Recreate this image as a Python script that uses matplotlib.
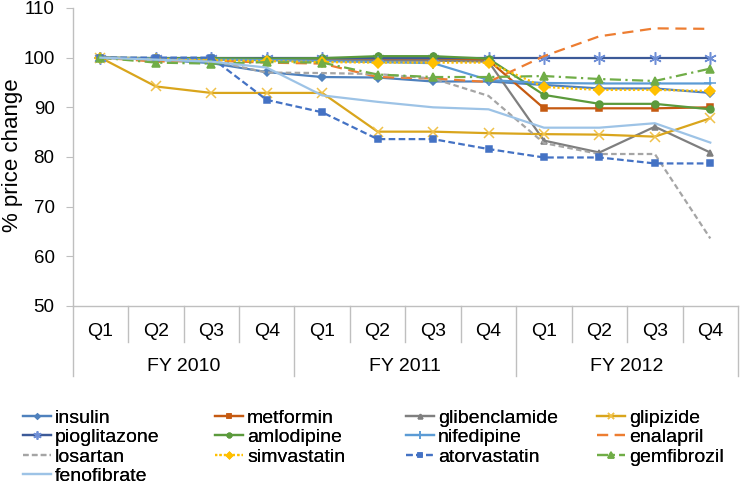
import matplotlib
matplotlib.use("Agg")
import matplotlib.pyplot as plt
from matplotlib.transforms import blended_transform_factory

plt.rcParams["font.family"] = ["Liberation Sans", "DejaVu Sans"]

quarters = ["Q1", "Q2", "Q3", "Q4", "Q1", "Q2", "Q3", "Q4", "Q1", "Q2", "Q3", "Q4"]
years = ["FY 2010", "FY 2011", "FY 2012"]

insulin = [100, 99.6, 98.9, 97.1, 96.1, 96.0, 95.2, 95.2, 94.5, 93.8, 93.8, 92.9]
metformin = [100, 99.8, 99.8, 99.6, 99.6, 99.5, 99.5, 99.5, 89.8, 89.8, 89.8, 90.0]
glibenclamide = [100, 99.7, 99.7, 99.5, 99.5, 99.4, 99.4, 99.2, 83.3, 80.9, 86.1, 80.9]
glipizide = [100, 94.2, 92.9, 92.9, 92.9, 85.1, 85.1, 84.8, 84.6, 84.5, 84.1, 87.8]
pioglitazone = [100, 100, 100, 100, 100, 100, 100, 100, 100, 100, 100, 100]
amlodipine = [100, 99.9, 99.9, 99.8, 99.9, 100.3, 100.3, 99.8, 92.5, 90.7, 90.7, 89.6]
nifedipine = [100, 99.8, 99.6, 99.5, 99.3, 99.1, 98.9, 95.5, 94.9, 94.8, 94.8, 94.8]
enalapril = [100, 99.2, 99.4, 99.0, 98.8, 96.1, 95.8, 95.1, 100.3, 104.3, 105.9, 105.8]
losartan = [100, 99.6, 99.4, 97.0, 96.9, 96.7, 95.8, 92.3, 82.8, 80.6, 80.6, 63.6]
simvastatin = [100, 99.7, 99.5, 99.3, 99.1, 99.0, 99.0, 99.0, 94.1, 93.5, 93.5, 93.3]
atorvastatin = [100, 100, 100, 91.5, 89.0, 83.6, 83.6, 81.6, 79.9, 79.9, 78.7, 78.7]
gemfibrozil = [100, 99.0, 98.8, 99.1, 99.0, 96.6, 96.1, 96.1, 96.3, 95.7, 95.3, 97.8]
fenofibrate = [100, 99.6, 99.2, 98.0, 92.4, 91.1, 90.0, 89.6, 85.9, 85.9, 86.8, 82.9]

# name, values, color, linestyle, marker, markersize, marker edge colour
series = [
    ("insulin", insulin, "#4F81BD", "-", "D", 4, None),
    ("metformin", metformin, "#C55A11", "-", "s", 5, None),
    ("glibenclamide", glibenclamide, "#7F7F7F", "-", "^", 5, None),
    ("glipizide", glipizide, "#D9A51C", "-", "x", 7, "#F0C24A"),
    ("pioglitazone", pioglitazone, "#3C5A98", "-", (6, 2, 0), 9, "#6F8FD6"),
    ("amlodipine", amlodipine, "#5B9A3C", "-", "o", 5, None),
    ("nifedipine", nifedipine, "#5B9BD5", "-", "+", 8, None),
    ("enalapril", enalapril, "#ED7D31", (0, (5, 3)), None, 0, None),
    ("losartan", losartan, "#A5A5A5", (0, (2.5, 1.5)), None, 0, None),
    ("simvastatin", simvastatin, "#FFC000", (0, (1, 1)), "D", 5, None),
    ("atorvastatin", atorvastatin, "#4472C4", (0, (3, 1.5)), "s", 5, None),
    ("gemfibrozil", gemfibrozil, "#70AD47", (0, (5, 2, 1, 2)), "^", 6, None),
    ("fenofibrate", fenofibrate, "#9DC3E6", "-", None, 0, None),
]

fig = plt.figure(figsize=(7.4, 4.84), dpi=100)
ax = fig.add_axes([0.0982, 0.3678, 0.8991, 0.6157])

x = list(range(len(quarters)))
lines = {}
for name, vals, color, ls, marker, ms, mec in series:
    (ln,) = ax.plot(x, vals, color=color, linestyle=ls, linewidth=1.6,
                    marker=marker, markersize=ms, markeredgewidth=1.1,
                    markeredgecolor=mec or color, label=name, clip_on=False)
    lines[name] = ln

ax.set_xlim(-0.5, 11.5)
ax.set_ylim(50, 110)
ax.set_yticks(range(50, 111, 10))
ax.tick_params(axis="y", labelsize=13.5, length=5, color="#BFBFBF", pad=8)
ax.set_xticks([])
for side in ["top", "right"]:
    ax.spines[side].set_visible(False)
for side in ["left", "bottom"]:
    ax.spines[side].set_color("#BFBFBF")
    ax.spines[side].set_linewidth(1.0)

# two-level category axis
trans = blended_transform_factory(ax.transData, ax.transAxes)
for k in range(13):
    xb = k - 0.5
    bottom = -0.235 if k % 4 == 0 else -0.121
    ax.plot([xb, xb], [0, bottom], color="#BFBFBF", linewidth=1.0,
            transform=trans, clip_on=False)
for i, q in enumerate(quarters):
    ax.text(i, -0.086, q, transform=trans, ha="center", va="center", fontsize=14)
for j, yr in enumerate(years):
    ax.text(4 * j + 1.5, -0.204, yr, transform=trans, ha="center", va="center",
            fontsize=14)

fig.text(0.017, 0.68, "% price change", rotation=90, ha="center", va="center",
         fontsize=16)

# legend laid out row by row in four fixed columns
columns = [
    ["insulin", "pioglitazone", "losartan", "fenofibrate"],
    ["metformin", "amlodipine", "simvastatin"],
    ["glibenclamide", "nifedipine", "atorvastatin"],
    ["glipizide", "enalapril", "gemfibrozil"],
]
col_x = [23, 215, 406, 597]
for names, cx in zip(columns, col_x):
    leg = fig.legend([lines[n] for n in names], names, loc="upper left",
                     bbox_to_anchor=(cx / 740, 1 - 409 / 484), frameon=False,
                     fontsize=14, handlelength=1.45, handletextpad=0.2,
                     labelspacing=0.1, borderpad=0, borderaxespad=0,
                     markerscale=0.65)
    fig.add_artist(leg)

fig.savefig("out.png", dpi=100)
